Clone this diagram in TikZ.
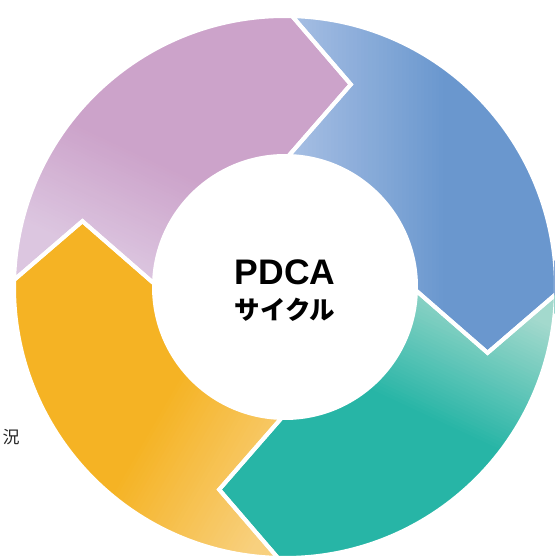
\documentclass[tikz,border=0pt]{standalone}
\usepackage{fontspec}
\setmainfont{Liberation Sans}
\newfontfamily\cjk{Noto Sans CJK JP}
\definecolor{purT}{HTML}{CCA3CA}
\definecolor{purB}{HTML}{DCC6E0}
\definecolor{bluL}{HTML}{A5BEE3}
\definecolor{bluD}{HTML}{6A97CE}
\definecolor{teaL}{HTML}{A3D9CD}
\definecolor{teaD}{HTML}{27B5A6}
\definecolor{oraD}{HTML}{F5B324}
\definecolor{oraL}{HTML}{F8D07E}
\tikzset{
  seg/.style={draw=white, line width=4, line join=miter},
}
% #1 head base angle, #2 tail base angle
\newcommand{\segclip}[2]{%
  \clip (#2:271) arc[start angle=#2, end angle=#1, radius=271]
    -- (#1-16.5:213) -- (#1:131)
    arc[start angle=#1, end angle=#2, radius=131]
    -- (#2-16.5:213) -- cycle;}
\newcommand{\segborder}[2]{%
  \draw[seg] (#2:271) arc[start angle=#2, end angle=#1, radius=271]
    -- (#1-16.5:213) -- (#1:131)
    arc[start angle=#1, end angle=#2, radius=131]
    -- (#2-16.5:213) -- cycle;}
% layered vertical gradient: #1 low y, #2 high y, #3 colour low, #4 colour high
\newcommand{\vgrad}[4]{%
  \fill[#3] (-700,-700) rectangle (700,700);
  \foreach \i in {1,...,40}{%
    \pgfmathsetmacro\pp{100*\i/40}%
    \fill[#4!\pp!#3] (-700,{#1+(#2-#1)*(\i-0.5)/40}) rectangle (700,700);
  }}
% layered horizontal gradient: #1 left x, #2 right x, #3 colour left, #4 colour right
\newcommand{\hgrad}[4]{%
  \fill[#3] (-700,-700) rectangle (700,700);
  \foreach \i in {1,...,40}{%
    \pgfmathsetmacro\pp{100*\i/40}%
    \fill[#4!\pp!#3] ({#1+(#2-#1)*(\i-0.5)/40},-700) rectangle (700,700);
  }}
\begin{document}
\begin{tikzpicture}[x=1pt,y=1pt]
\useasboundingbox (0,0) rectangle (554,559);
\clip (0,0) rectangle (554,559);
\fill[white] (0,0) rectangle (554,559);
\begin{scope}[shift={(285,272)}]
  % purple
  \begin{scope}
    \segclip{88.5}{178.5}
    \begin{scope}[rotate around={-25:(-150,75)}]
      \vgrad{20}{130}{purB}{purT}
    \end{scope}
  \end{scope}
  % blue
  \begin{scope}
    \segclip{-1.5}{88.5}
    \hgrad{10}{160}{bluL}{bluD}
  \end{scope}
  % teal
  \begin{scope}
    \segclip{-91.5}{-1.5}
    \begin{scope}[rotate around={-25:(200,-80)}]
      \vgrad{-150}{-15}{teaD}{teaL}
    \end{scope}
  \end{scope}
  % orange
  \begin{scope}
    \segclip{178.5}{268.5}
    \begin{scope}[rotate around={-30:(-100,-180)}]
      \hgrad{-150}{0}{oraD}{oraL}
    \end{scope}
  \end{scope}
  \segborder{88.5}{178.5}
  \segborder{-1.5}{88.5}
  \segborder{-91.5}{-1.5}
  \segborder{178.5}{268.5}
  \fill[white] (0,0) circle[radius=131];
  \node[font=\bfseries\fontsize{35.5pt}{38pt}\selectfont] (pdca) at (0,15) {PDCA};
  \node[font=\cjk\bfseries\fontsize{25.5pt}{28pt}\selectfont] (cyc) at (0,-23) {サイクル};
\end{scope}
\node[font=\cjk\fontsize{17pt}{20pt}\selectfont, text=black!85] (kyo) at (11,122) {況};
\end{tikzpicture}
\end{document}
